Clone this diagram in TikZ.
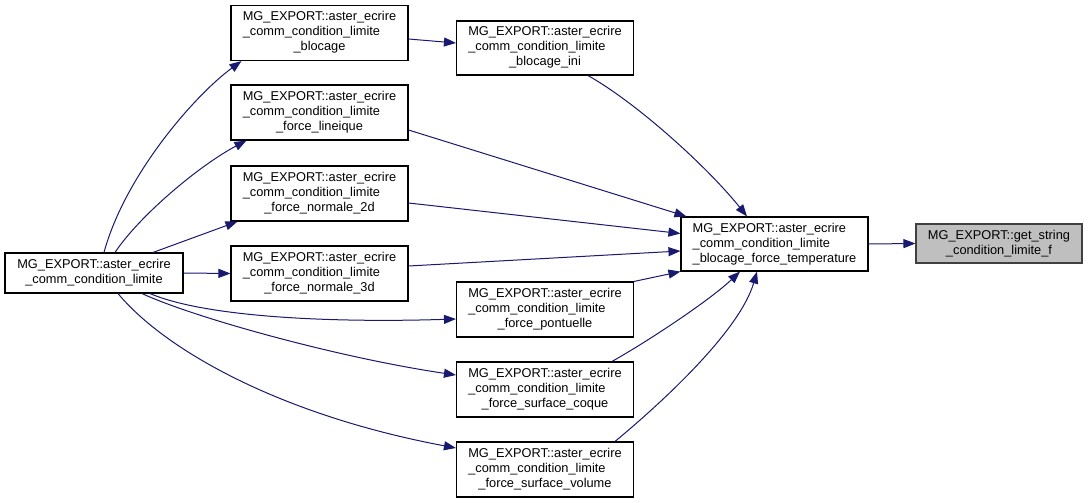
\documentclass[tikz,border=0pt]{standalone}
\usepackage{fontspec}
\setmainfont{Liberation Sans}
\usetikzlibrary{arrows.meta}
\definecolor{edgeblue}{HTML}{191970}
\definecolor{hlfill}{HTML}{BFBFBF}
\definecolor{hlborder}{HTML}{404040}
\newcommand\lblthree[3]{\begin{tabular}{@{}l@{}}#1\\#2\\\multicolumn{1}{@{}c@{}}{#3}\end{tabular}}
\newcommand\lbltwo[2]{\begin{tabular}{@{}c@{}}#1\\#2\end{tabular}}
\begin{document}
\begin{tikzpicture}[x=1pt,y=-1pt,
  fnbox/.style={draw=black,line width=1.1pt,fill=white,inner sep=0pt,
    font=\fontsize{12.8}{15}\selectfont,anchor=center},
  wide/.style={minimum width=177pt,minimum height=55pt},
  edge/.style={draw=edgeblue,line width=1pt,
    -{Triangle[length=12pt,width=9pt]}}]
\useasboundingbox (0,0) rectangle (1088,503);
\fill[white] (0,0) rectangle (1088,503);
% nodes
\node[fnbox,minimum width=178pt,minimum height=40pt] (A) at (94,273)
  {\lbltwo{MG\_EXPORT::aster\_ecrire}{\_comm\_condition\_limite}};
\node[fnbox,wide] (B1) at (319.5,33)
  {\lblthree{MG\_EXPORT::aster\_ecrire}{\_comm\_condition\_limite}{\_blocage}};
\node[fnbox,wide,minimum height=54pt] (B2) at (545,48)
  {\lblthree{MG\_EXPORT::aster\_ecrire}{\_comm\_condition\_limite}{\_blocage\_ini}};
\node[fnbox,wide] (B3) at (319.5,112.5)
  {\lblthree{MG\_EXPORT::aster\_ecrire}{\_comm\_condition\_limite}{\_force\_lineique}};
\node[fnbox,wide] (B4) at (319.5,193.5)
  {\lblthree{MG\_EXPORT::aster\_ecrire}{\_comm\_condition\_limite}{\_force\_normale\_2d}};
\node[fnbox,wide] (B5) at (319.5,273.5)
  {\lblthree{MG\_EXPORT::aster\_ecrire}{\_comm\_condition\_limite}{\_force\_normale\_3d}};
\node[fnbox,wide] (C1) at (545,309.5)
  {\lblthree{MG\_EXPORT::aster\_ecrire}{\_comm\_condition\_limite}{\_force\_pontuelle}};
\node[fnbox,wide] (C2) at (545,389.5)
  {\lblthree{MG\_EXPORT::aster\_ecrire}{\_comm\_condition\_limite}{\_force\_surface\_coque}};
\node[fnbox,wide] (C3) at (545,469.5)
  {\lblthree{MG\_EXPORT::aster\_ecrire}{\_comm\_condition\_limite}{\_force\_surface\_volume}};
\node[fnbox,minimum width=187pt,minimum height=54pt] (D) at (774.5,244)
  {\lblthree{MG\_EXPORT::aster\_ecrire}{\_comm\_condition\_limite}{\_blocage\_force\_temperature}};
\node[fnbox,draw=hlborder,fill=hlfill,minimum width=166pt,minimum height=39pt] (E) at (999,243.5)
  {\lbltwo{MG\_EXPORT::get\_string}{\_condition\_limite\_f}};
% edges from A
\draw[edge] ([xshift=10pt]A.north) .. controls (125,175) and (195,95) .. ([xshift=11pt]B1.south west);
\draw[edge] ([xshift=21pt]A.north) .. controls (140,215) and (200,165) .. ([xshift=16pt]B3.south west);
\draw[edge] ([xshift=59pt]A.north) -- ([xshift=7pt]B4.south west);
\draw[edge] (A.east) -- (B5.west);
\draw[edge] ([xshift=56pt]A.south) .. controls (205,317) and (330,323) .. ([yshift=-9.5pt]C1.west);
\draw[edge] ([xshift=48pt]A.south) .. controls (195,318) and (340,358) .. ([yshift=14.5pt]C2.west);
\draw[edge] ([xshift=24pt]A.south) .. controls (165,350) and (280,415) .. ([yshift=21.5pt]C3.west);
% second level
\draw[edge] ([yshift=-6pt]B1.east) -- ([yshift=5pt]B2.west);
\draw[edge] ([xshift=43pt]B2.south) .. controls (640,105) and (710,170) .. ([xshift=-27.5pt]D.north);
\draw[edge] ([yshift=-17.5pt]B3.east) -- ([xshift=6pt]D.north west);
\draw[edge] ([yshift=-9.5pt]B4.east) -- ([yshift=10.5pt]D.west);
\draw[edge] ([yshift=7.5pt]B5.east) -- ([yshift=-7pt]D.west);
\draw[edge] (C1.north east) -- (D.south west);
\draw[edge] ([xshift=67pt]C2.north) .. controls (650,340) and (710,300) .. ([xshift=-34.5pt]D.south);
\draw[edge] ([xshift=70pt]C3.north) .. controls (665,400) and (740,330) .. ([xshift=-17.5pt]D.south);
\draw[edge] (D.east) -- (E.west);
\end{tikzpicture}
\end{document}
